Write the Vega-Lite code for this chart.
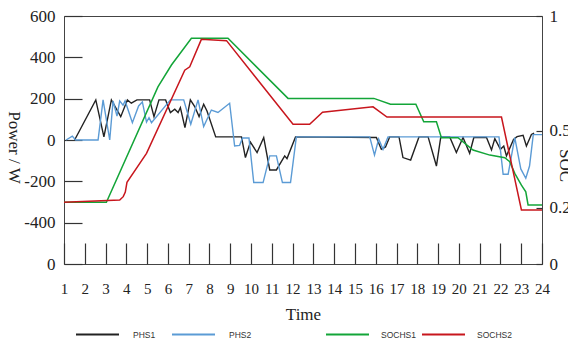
{
  "$schema": "https://vega.github.io/schema/vega-lite/v6.json",
  "width": 478,
  "height": 248,
  "autosize": {"type": "none"},
  "padding": {"left": 64, "top": 16, "right": 26, "bottom": 78},
  "background": "white",
  "config": {
    "view": {"stroke": "#444444", "strokeWidth": 1},
    "font": "Liberation Serif",
    "axis": {"grid": false, "domain": false, "tickColor": "#333333", "tickWidth": 1.2, "labelColor": "#222222", "titleColor": "#222222", "titleFontWeight": "normal", "labelFlush": false, "labelOverlap": false}
  },
  "datasets": {
    "power": [
      {"series": "PHS1", "t": 1.51, "v": 0}, {"series": "PHS1", "t": 2.53, "v": 194}, {"series": "PHS1", "t": 2.92, "v": 15},
      {"series": "PHS1", "t": 3.28, "v": 194}, {"series": "PHS1", "t": 3.73, "v": 113}, {"series": "PHS1", "t": 4.05, "v": 194},
      {"series": "PHS1", "t": 4.24, "v": 178}, {"series": "PHS1", "t": 4.51, "v": 194}, {"series": "PHS1", "t": 5.12, "v": 194},
      {"series": "PHS1", "t": 5.33, "v": 113}, {"series": "PHS1", "t": 5.57, "v": 194}, {"series": "PHS1", "t": 5.89, "v": 194},
      {"series": "PHS1", "t": 6.12, "v": 133}, {"series": "PHS1", "t": 6.33, "v": 149}, {"series": "PHS1", "t": 6.49, "v": 133},
      {"series": "PHS1", "t": 6.6, "v": 157}, {"series": "PHS1", "t": 6.82, "v": 60}, {"series": "PHS1", "t": 7.08, "v": 194},
      {"series": "PHS1", "t": 7.29, "v": 162}, {"series": "PHS1", "t": 7.5, "v": 113}, {"series": "PHS1", "t": 7.72, "v": 173},
      {"series": "PHS1", "t": 7.88, "v": 140}, {"series": "PHS1", "t": 8.3, "v": 15}, {"series": "PHS1", "t": 9.54, "v": 15},
      {"series": "PHS1", "t": 9.73, "v": -85}, {"series": "PHS1", "t": 9.97, "v": -10}, {"series": "PHS1", "t": 10.29, "v": -61},
      {"series": "PHS1", "t": 10.61, "v": 12}, {"series": "PHS1", "t": 10.9, "v": -145}, {"series": "PHS1", "t": 11.22, "v": -145},
      {"series": "PHS1", "t": 11.62, "v": -77}, {"series": "PHS1", "t": 11.73, "v": -90}, {"series": "PHS1", "t": 12.14, "v": 15},
      {"series": "PHS1", "t": 16.03, "v": 12}, {"series": "PHS1", "t": 16.27, "v": -45}, {"series": "PHS1", "t": 16.47, "v": -34},
      {"series": "PHS1", "t": 16.67, "v": 15}, {"series": "PHS1", "t": 17.12, "v": 15}, {"series": "PHS1", "t": 17.31, "v": -85},
      {"series": "PHS1", "t": 17.68, "v": -97}, {"series": "PHS1", "t": 18.08, "v": 15}, {"series": "PHS1", "t": 18.52, "v": 15},
      {"series": "PHS1", "t": 18.92, "v": -126}, {"series": "PHS1", "t": 19.13, "v": 15}, {"series": "PHS1", "t": 19.56, "v": 15},
      {"series": "PHS1", "t": 19.88, "v": -61}, {"series": "PHS1", "t": 20.2, "v": 12}, {"series": "PHS1", "t": 20.52, "v": -64},
      {"series": "PHS1", "t": 20.72, "v": 12}, {"series": "PHS1", "t": 21.33, "v": 12}, {"series": "PHS1", "t": 21.57, "v": -48},
      {"series": "PHS1", "t": 21.73, "v": 7}, {"series": "PHS1", "t": 22.0, "v": -45}, {"series": "PHS1", "t": 22.16, "v": -29},
      {"series": "PHS1", "t": 22.29, "v": -77}, {"series": "PHS1", "t": 22.63, "v": 3}, {"series": "PHS1", "t": 22.8, "v": 16},
      {"series": "PHS1", "t": 23.09, "v": 23}, {"series": "PHS1", "t": 23.25, "v": -29}, {"series": "PHS1", "t": 23.49, "v": 27},
      {"series": "PHS1", "t": 23.62, "v": 33},
      {"series": "PHS2", "t": 1.1, "v": 0}, {"series": "PHS2", "t": 1.4, "v": 19}, {"series": "PHS2", "t": 1.56, "v": 0},
      {"series": "PHS2", "t": 2.64, "v": 0}, {"series": "PHS2", "t": 2.88, "v": 194}, {"series": "PHS2", "t": 3.2, "v": 0},
      {"series": "PHS2", "t": 3.36, "v": 189}, {"series": "PHS2", "t": 3.55, "v": 116}, {"series": "PHS2", "t": 3.68, "v": 189},
      {"series": "PHS2", "t": 3.84, "v": 168}, {"series": "PHS2", "t": 3.94, "v": 189}, {"series": "PHS2", "t": 4.29, "v": 84},
      {"series": "PHS2", "t": 4.59, "v": 165}, {"series": "PHS2", "t": 4.77, "v": 184}, {"series": "PHS2", "t": 4.97, "v": 87},
      {"series": "PHS2", "t": 5.09, "v": 108}, {"series": "PHS2", "t": 5.21, "v": 84}, {"series": "PHS2", "t": 6.12, "v": 194},
      {"series": "PHS2", "t": 6.76, "v": 194}, {"series": "PHS2", "t": 7.1, "v": 76}, {"series": "PHS2", "t": 7.45, "v": 194},
      {"series": "PHS2", "t": 7.72, "v": 65}, {"series": "PHS2", "t": 8.09, "v": 145}, {"series": "PHS2", "t": 8.41, "v": 133},
      {"series": "PHS2", "t": 8.97, "v": 178}, {"series": "PHS2", "t": 9.21, "v": -29}, {"series": "PHS2", "t": 9.45, "v": -26},
      {"series": "PHS2", "t": 9.59, "v": 10}, {"series": "PHS2", "t": 9.9, "v": 10}, {"series": "PHS2", "t": 10.13, "v": -206},
      {"series": "PHS2", "t": 10.58, "v": -206}, {"series": "PHS2", "t": 10.9, "v": -77}, {"series": "PHS2", "t": 11.22, "v": -77},
      {"series": "PHS2", "t": 11.51, "v": -206}, {"series": "PHS2", "t": 11.9, "v": -206}, {"series": "PHS2", "t": 12.18, "v": 15},
      {"series": "PHS2", "t": 15.71, "v": 15}, {"series": "PHS2", "t": 15.94, "v": -73}, {"series": "PHS2", "t": 16.14, "v": 5},
      {"series": "PHS2", "t": 16.35, "v": -45}, {"series": "PHS2", "t": 16.59, "v": 15}, {"series": "PHS2", "t": 21.93, "v": 15},
      {"series": "PHS2", "t": 22.13, "v": -166}, {"series": "PHS2", "t": 22.37, "v": -166}, {"series": "PHS2", "t": 22.69, "v": 12},
      {"series": "PHS2", "t": 22.98, "v": -140}, {"series": "PHS2", "t": 23.22, "v": -185}, {"series": "PHS2", "t": 23.4, "v": -126},
      {"series": "PHS2", "t": 23.58, "v": 26}, {"series": "PHS2", "t": 24, "v": 26}
    ],
    "soc": [
      {"series": "SOCHS1", "t": 1, "soc": 0.222}, {"series": "SOCHS1", "t": 3.04, "soc": 0.222}, {"series": "SOCHS1", "t": 5.52, "soc": 0.672},
      {"series": "SOCHS1", "t": 6.17, "soc": 0.757}, {"series": "SOCHS1", "t": 7.13, "soc": 0.861}, {"series": "SOCHS1", "t": 8.89, "soc": 0.861},
      {"series": "SOCHS1", "t": 11.78, "soc": 0.627}, {"series": "SOCHS1", "t": 15.91, "soc": 0.627}, {"series": "SOCHS1", "t": 16.71, "soc": 0.604},
      {"series": "SOCHS1", "t": 17.93, "soc": 0.604}, {"series": "SOCHS1", "t": 18.31, "soc": 0.536}, {"series": "SOCHS1", "t": 18.92, "soc": 0.536},
      {"series": "SOCHS1", "t": 19.16, "soc": 0.474}, {"series": "SOCHS1", "t": 19.96, "soc": 0.474}, {"series": "SOCHS1", "t": 20.68, "soc": 0.426},
      {"series": "SOCHS1", "t": 21.49, "soc": 0.406}, {"series": "SOCHS1", "t": 22.21, "soc": 0.396}, {"series": "SOCHS1", "t": 22.45, "soc": 0.38},
      {"series": "SOCHS1", "t": 22.69, "soc": 0.335}, {"series": "SOCHS1", "t": 23.01, "soc": 0.289}, {"series": "SOCHS1", "t": 23.22, "soc": 0.263},
      {"series": "SOCHS1", "t": 23.33, "soc": 0.212}, {"series": "SOCHS1", "t": 24, "soc": 0.212},
      {"series": "SOCHS2", "t": 1, "soc": 0.222}, {"series": "SOCHS2", "t": 3.68, "soc": 0.231}, {"series": "SOCHS2", "t": 3.85, "soc": 0.244},
      {"series": "SOCHS2", "t": 3.95, "soc": 0.262}, {"series": "SOCHS2", "t": 4.03, "soc": 0.3}, {"series": "SOCHS2", "t": 4.97, "soc": 0.413},
      {"series": "SOCHS2", "t": 6.81, "soc": 0.737}, {"series": "SOCHS2", "t": 7.05, "soc": 0.75}, {"series": "SOCHS2", "t": 7.61, "soc": 0.857},
      {"series": "SOCHS2", "t": 8.82, "soc": 0.852}, {"series": "SOCHS2", "t": 12.02, "soc": 0.526}, {"series": "SOCHS2", "t": 12.82, "soc": 0.526},
      {"series": "SOCHS2", "t": 13.44, "soc": 0.573}, {"series": "SOCHS2", "t": 15.87, "soc": 0.594}, {"series": "SOCHS2", "t": 16.54, "soc": 0.554},
      {"series": "SOCHS2", "t": 22.05, "soc": 0.554}, {"series": "SOCHS2", "t": 23.01, "soc": 0.192}, {"series": "SOCHS2", "t": 24, "soc": 0.192}
    ]
  },
  "layer": [
    {
      "data": {"name": "power"},
      "mark": {"type": "line", "strokeWidth": 1.4},
      "encoding": {
        "x": {
          "field": "t", "type": "quantitative",
          "scale": {"domain": [1, 24], "nice": false, "zero": false},
          "axis": {
            "values": [1, 2, 3, 4, 5, 6, 7, 8, 9, 10, 11, 12, 13, 14, 15, 16, 17, 18, 19, 20, 21, 22, 23, 24],
            "tickSize": -21, "labelPadding": 38, "labelFontSize": 15, "labelFont": "Liberation Serif", "labelOverlap": false, "labelFlush": false,
            "title": "Time", "titleFontSize": 17, "titleFont": "Liberation Serif", "titlePadding": 10
          }
        },
        "y": {
          "field": "v", "type": "quantitative",
          "scale": {"domain": [-600, 600], "nice": false, "zero": false},
          "axis": {
            "values": [-600, -400, -200, 0, 200, 400, 600],
            "labelExpr": "datum.value == -600 ? '0' : '' + datum.value",
            "tickSize": -18, "labelPadding": 27, "labelFontSize": 17, "labelFont": "Liberation Serif",
            "title": "Power / W", "titleAngle": 90, "titleFontSize": 17, "titleFont": "Liberation Serif", "titlePadding": 19, "titleY": 131
          }
        },
        "color": {
          "field": "series", "type": "nominal",
          "scale": {"domain": ["PHS1", "PHS2"], "range": ["#222222", "#5b9bd5"]},
          "legend": {
            "orient": "none", "legendX": 11, "legendY": 296, "direction": "horizontal", "title": null,
            "symbolType": "stroke", "symbolSize": 1849, "symbolStrokeWidth": 2,
            "labelFont": "Liberation Sans", "labelFontSize": 8.5, "labelColor": "#333333", "labelOffset": 13, "columnPadding": 12
          }
        }
      }
    },
    {
      "data": {"name": "soc"},
      "mark": {"type": "line", "strokeWidth": 1.5},
      "encoding": {
        "x": {
          "field": "t", "type": "quantitative",
          "scale": {"domain": [1, 24], "nice": false, "zero": false},
          "axis": {
            "values": [1, 2, 3, 4, 5, 6, 7, 8, 9, 10, 11, 12, 13, 14, 15, 16, 17, 18, 19, 20, 21, 22, 23, 24],
            "tickSize": -21, "labelPadding": 38, "labelFontSize": 15, "labelFont": "Liberation Serif", "labelOverlap": false, "labelFlush": false,
            "title": "Time", "titleFontSize": 17, "titleFont": "Liberation Serif", "titlePadding": 10
          }
        },
        "y": {
          "field": "soc", "type": "quantitative",
          "scale": {"domain": [-0.0183, 0.948], "nice": false, "zero": false},
          "axis": {
            "orient": "right",
            "values": [-0.0183, 0.2, 0.5, 0.948],
            "labelExpr": "datum.value < 0 ? '0' : datum.value > 0.9 ? '1' : '' + datum.value",
            "tickSize": -6, "labelPadding": 13, "labelFontSize": 17, "labelFont": "Liberation Serif",
            "title": "SOC", "titleFontSize": 17, "titleFont": "Liberation Serif", "titlePadding": -15, "titleY": 149
          }
        },
        "stroke": {
          "field": "series", "type": "nominal",
          "scale": {"domain": ["SOCHS1", "SOCHS2"], "range": ["#13a538", "#c8161d"]},
          "legend": {
            "orient": "none", "legendX": 261, "legendY": 296, "direction": "horizontal", "title": null,
            "symbolType": "stroke", "symbolSize": 1849, "symbolStrokeWidth": 2,
            "labelFont": "Liberation Sans", "labelFontSize": 8.5, "labelColor": "#333333", "labelOffset": 11, "columnPadding": 2
          }
        }
      }
    }
  ],
  "resolve": {"scale": {"y": "independent"}}
}
